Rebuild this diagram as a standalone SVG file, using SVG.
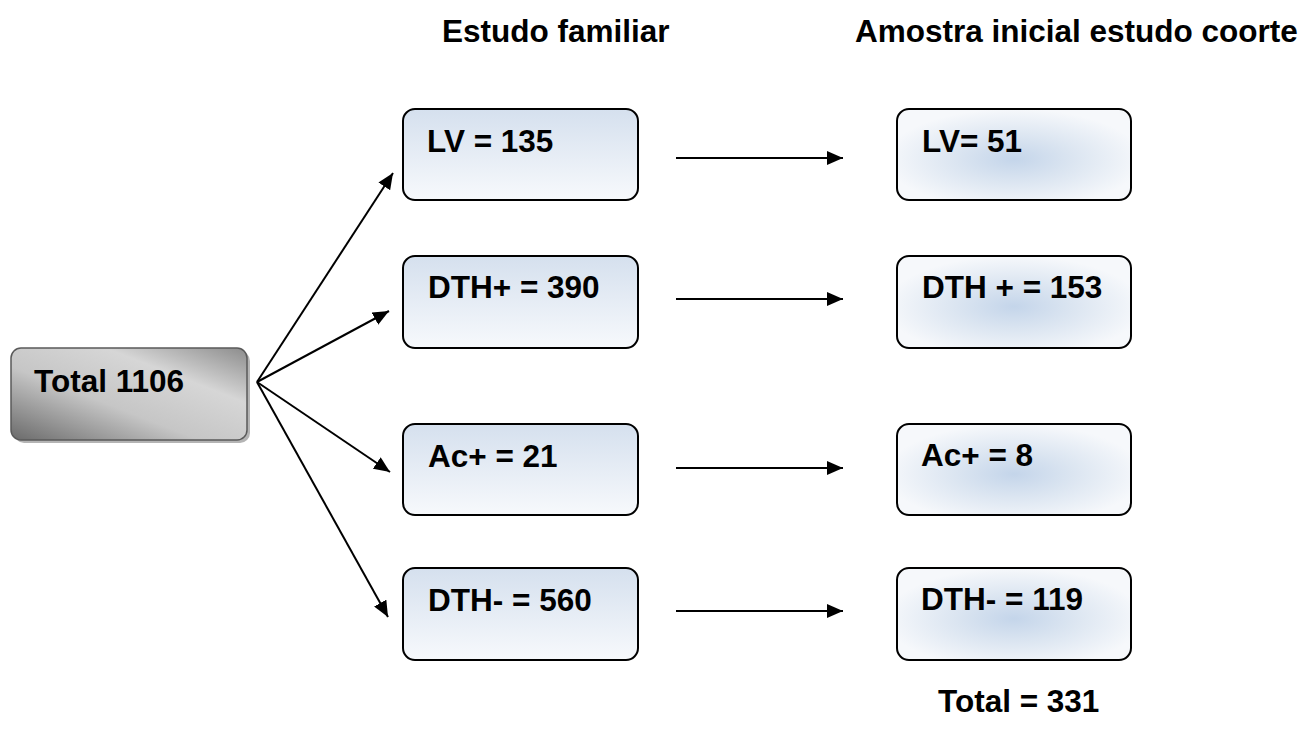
<svg xmlns="http://www.w3.org/2000/svg" width="1308" height="737" viewBox="0 0 1308 737">
  <style>
    .t { font-family: "Liberation Sans", Arial, sans-serif; font-weight: bold; font-size: 31.5px; fill: #000; }
    .lbox { fill: url(#gLeft); stroke: #000; stroke-width: 2; }
    .rbox { fill: url(#gRight); stroke: #000; stroke-width: 2; }
    .conn { stroke: #000; stroke-width: 2; fill: none; marker-end: url(#arr); }
  </style>
  <defs>
    <linearGradient id="gLeft" x1="0" y1="0" x2="0" y2="1">
      <stop offset="0" stop-color="#d5e0ee"/>
      <stop offset="1" stop-color="#f7f9fc"/>
    </linearGradient>
    <radialGradient id="gRight" cx="0.5" cy="0.55" r="0.55">
      <stop offset="0" stop-color="#c4d5ea"/>
      <stop offset="0.45" stop-color="#dbe5f1"/>
      <stop offset="1" stop-color="#f6f8fb"/>
    </radialGradient>
    <linearGradient id="gTotal" x1="0" y1="1" x2="1" y2="0">
      <stop offset="0" stop-color="#6a6a6a"/>
      <stop offset="0.4" stop-color="#c6c6c6"/>
      <stop offset="0.7" stop-color="#d6d6d6"/>
      <stop offset="1" stop-color="#8c8c8c"/>
    </linearGradient>
    <marker id="arr" viewBox="0 0 16 14" refX="16" refY="7" markerWidth="16" markerHeight="14" markerUnits="userSpaceOnUse" orient="auto">
      <path d="M0,0 L16,7 L0,14 z" fill="#000"/>
    </marker>
  </defs>
  <rect width="1308" height="737" fill="#fff"/>

  <text class="t" x="442" y="42">Estudo familiar</text>
  <text class="t" x="855" y="42">Amostra inicial estudo coorte</text>

  <g id="total">
    <rect x="14" y="351" width="236" height="92" rx="10" fill="#b4b4b4"/>
    <rect x="11" y="348" width="236" height="92" rx="10" fill="url(#gTotal)" stroke="#5a5a5a" stroke-width="1.5"/>
    <text class="t" x="34" y="392">Total 1106</text>
  </g>

  <g id="lv-left">
    <rect class="lbox" x="403" y="109" width="235" height="91" rx="12"/>
    <text class="t" x="427" y="152">LV = 135</text>
  </g>
  <g id="dthp-left">
    <rect class="lbox" x="403" y="256" width="235" height="92" rx="12"/>
    <text class="t" x="428" y="298">DTH+ = 390</text>
  </g>
  <g id="acp-left">
    <rect class="lbox" x="403" y="424" width="235" height="91" rx="12"/>
    <text class="t" x="428" y="467">Ac+ = 21</text>
  </g>
  <g id="dthm-left">
    <rect class="lbox" x="403" y="568" width="235" height="92" rx="12"/>
    <text class="t" x="428" y="611">DTH- = 560</text>
  </g>

  <g id="lv-right">
    <rect class="rbox" x="897" y="109" width="234" height="91" rx="12"/>
    <text class="t" x="922" y="152">LV= 51</text>
  </g>
  <g id="dthp-right">
    <rect class="rbox" x="897" y="256" width="234" height="92" rx="12"/>
    <text class="t" x="922" y="298">DTH + = 153</text>
  </g>
  <g id="acp-right">
    <rect class="rbox" x="897" y="424" width="234" height="91" rx="12"/>
    <text class="t" x="921" y="466">Ac+ = 8</text>
  </g>
  <g id="dthm-right">
    <rect class="rbox" x="897" y="568" width="234" height="92" rx="12"/>
    <text class="t" x="921" y="610">DTH- = 119</text>
  </g>

  <text class="t" x="938" y="712">Total = 331</text>

  <g id="connectors">
    <line class="conn" x1="257" y1="382" x2="393" y2="173"/>
    <line class="conn" x1="257" y1="382" x2="389" y2="311"/>
    <line class="conn" x1="257" y1="382" x2="390" y2="472"/>
    <line class="conn" x1="257" y1="382" x2="388" y2="617"/>
    <line class="conn" x1="676" y1="158" x2="843" y2="158"/>
    <line class="conn" x1="676" y1="299" x2="843" y2="299"/>
    <line class="conn" x1="676" y1="468" x2="843" y2="468"/>
    <line class="conn" x1="676" y1="611" x2="843" y2="611"/>
  </g>
</svg>
